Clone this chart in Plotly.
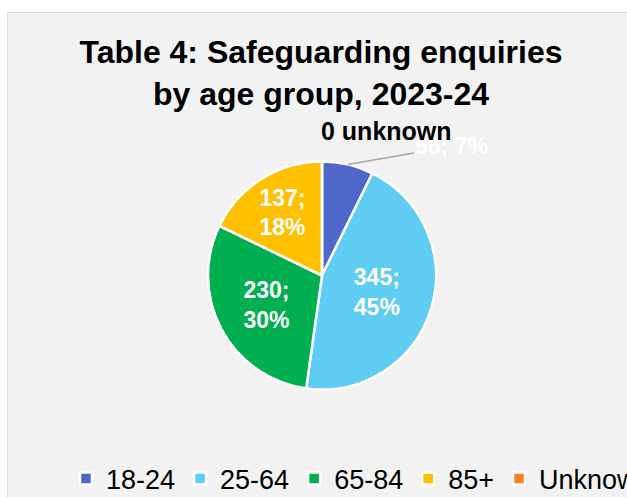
import math
import plotly.graph_objects as go

# Safeguarding enquiries by age group, 2023-24
age_groups = ["18-24", "25-64", "65-84", "85+", "Unknown"]
enquiries = [56, 345, 230, 137, 0]
slice_colors = ["#4E67C8", "#5ECCF3", "#00B050", "#FFC000", "#FF8021"]

W, H = 627, 497
FONT = "Liberation Sans, Arial, sans-serif"

# pie geometry in pixels
cx, cy, r = 322, 275.5, 114

total = sum(enquiries)
pct = [v / total for v in enquiries]

# slices whose labels sit inside the pie; the small first slice gets a callout
text_pos = ["none" if (i == 0 or v == 0) else "inside" for i, v in enumerate(enquiries)]

fig = go.Figure()
fig.add_trace(go.Pie(
    labels=age_groups,
    values=enquiries,
    sort=False,
    direction="clockwise",
    rotation=0,
    marker=dict(colors=slice_colors, line=dict(color="white", width=2.5)),
    texttemplate="%{value};<br>%{percent:.0%}",
    textposition=text_pos,
    insidetextorientation="horizontal",
    textfont=dict(family=FONT, size=23, color="white", weight="bold"),
    domain=dict(x=[(cx - r) / W, (cx + r) / W],
                y=[1 - (cy + r) / H, 1 - (cy - r) / H]),
    showlegend=True,
    hoverinfo="label+value+percent",
))

# callout for the first slice: arrow from the slice's outer edge to its label
mid = (enquiries[0] / 2) / total * 2 * math.pi
ex = cx + r * math.sin(mid)
ey = cy - r * math.cos(mid)

annotations = [
    dict(
        x=ex / W, y=1 - ey / H, xref="paper", yref="paper",
        text=f"<b>{enquiries[0]}; {pct[0]:.0%}</b>",
        showarrow=True, arrowhead=0, arrowwidth=1.5, arrowcolor="#A6A6A6",
        ax=104, ay=-18,
        font=dict(family=FONT, size=23, color="white"),
    ),
    dict(
        x=386 / W, y=1 - 131 / H, xref="paper", yref="paper",
        text=f"<b>{enquiries[4]} unknown</b>",
        showarrow=False, xanchor="center", yanchor="middle",
        font=dict(family=FONT, size=25, color="black"),
    ),
]

fig.update_layout(
    width=W, height=H,
    margin=dict(l=0, r=0, t=0, b=0, autoexpand=False),
    paper_bgcolor="white",
    plot_bgcolor="white",
    title=dict(
        text="<b>Table 4: Safeguarding enquiries<br>by age group, 2023-24</b>",
        x=321 / W, xanchor="center",
        y=1 - 63 / H, yanchor="top",
        font=dict(family=FONT, size=32, color="black"),
    ),
    legend=dict(
        orientation="h",
        x=66 / W, xanchor="left",
        y=1 - 479 / H, yanchor="middle",
        font=dict(family=FONT, size=27, color="black"),
        bgcolor="rgba(0,0,0,0)",
        traceorder="normal",
    ),
    annotations=annotations,
    shapes=[
        dict(type="rect", xref="paper", yref="paper", layer="below",
             x0=7.5 / W, x1=1.05, y0=-0.05, y1=1 - 12.5 / H,
             fillcolor="#F2F2F2", line=dict(color="#D9D9D9", width=1)),
    ],
)

fig.write_html("out.html")
